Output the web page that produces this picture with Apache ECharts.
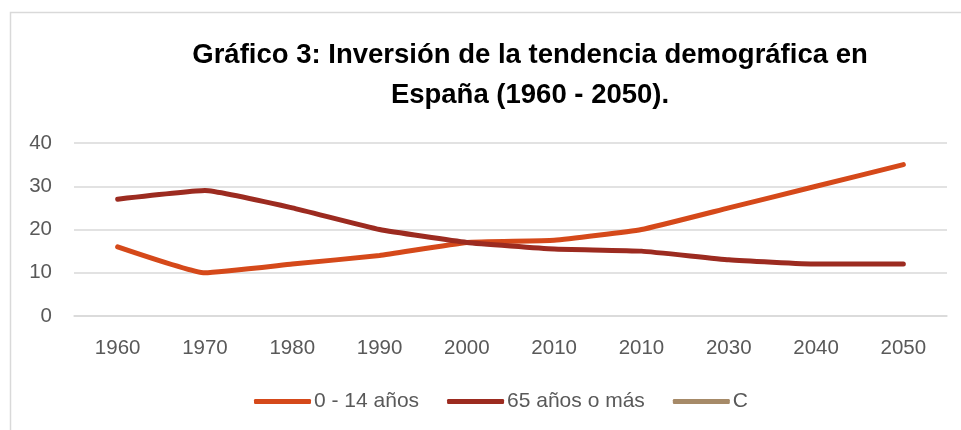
<!DOCTYPE html>
<html>
<head>
<meta charset="utf-8">
<script src="https://cdn.jsdelivr.net/npm/echarts@6/dist/echarts.min.js"></script>
<style>
  html, body { margin: 0; padding: 0; background: #fff; }
  #chart { width: 961px; height: 430px; }
</style>
</head>
<body>
<div id="chart"></div>
<script>
// años del eje X (el original repite 2010)
const years = ['1960', '1970', '1980', '1990', '2000', '2010', '2010', '2030', '2040', '2050']
const jovenes = [16, 10, 12, 14, 17, 17.5, 20, 25, 30, 35]
const mayores = [27, 29, 25, 20, 17, 15.5, 15, 13, 12, 12]
const serieC = []
const seriesNames = ['0 - 14 años', '65 años o más', 'C']
const colors = ['#D5491A', '#9C2B20', '#A68A68']

const chart = echarts.init(document.getElementById('chart'))

const lineSerie = (name, data, color) => ({
  name: name,
  type: 'line',
  data: data,
  smooth: 0.12,
  showSymbol: false,
  symbol: 'none',
  color: color,
  lineStyle: { width: 5, color: color, cap: 'round', join: 'round' },
})

const option = {
  animation: false,
  color: colors,
  textStyle: { fontFamily: 'Liberation Sans' },
  title: {
    text: 'Gráfico 3: Inversión de la tendencia demográfica en\nEspaña (1960 - 2050).',
    left: 525,
    textAlign: 'center',
    top: 30,
    textStyle: {
      fontFamily: 'Liberation Sans',
      fontWeight: 'bold',
      fontSize: 27.5,
      lineHeight: 40,
      color: '#000',
    },
  },
  grid: { left: 74, right: 14, top: 143, bottom: 114 },
  xAxis: {
    type: 'category',
    data: years,
    boundaryGap: true,
    axisLine: { show: true, lineStyle: { color: '#d9d9d9', width: 1.5 } },
    axisTick: { show: false },
    axisLabel: { color: '#595959', fontSize: 20.5, margin: 22 },
  },
  yAxis: {
    type: 'value',
    min: 0,
    max: 40,
    interval: 10,
    axisLine: { show: false },
    axisTick: { show: false },
    axisLabel: { color: '#595959', fontSize: 20.5, margin: 22 },
    splitLine: { lineStyle: { color: '#d9d9d9', width: 1.5 } },
  },
  legend: {
    bottom: 13,
    left: 249,
    icon: 'roundRect',
    itemWidth: 57,
    itemHeight: 5,
    itemGap: 28,
    textStyle: { color: '#595959', fontSize: 21, padding: [0, 0, 0, -2] },
    data: seriesNames,
  },
  graphic: [
    {
      type: 'polyline',
      shape: { points: [[10.5, 430], [10.5, 12.5], [961, 12.5]] },
      style: { stroke: '#d9d9d9', lineWidth: 1.5, fill: null },
    },
  ],
  series: [
    lineSerie(seriesNames[0], jovenes, colors[0]),
    lineSerie(seriesNames[1], mayores, colors[1]),
    lineSerie(seriesNames[2], serieC, colors[2]),
  ],
}

chart.setOption(option)
</script>
</body>
</html>
